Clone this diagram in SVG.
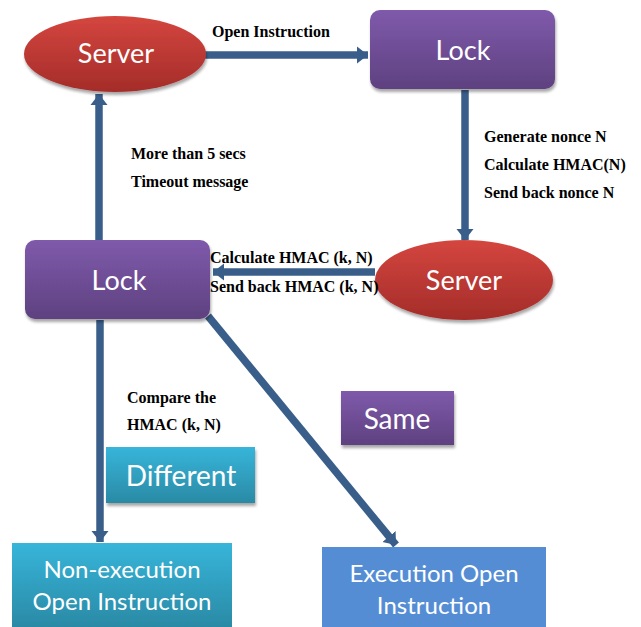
<svg xmlns="http://www.w3.org/2000/svg" width="641" height="627" viewBox="0 0 641 627">
  <defs>
    <linearGradient id="gRed" x1="0" y1="0" x2="0" y2="1">
      <stop offset="0" stop-color="#d4463f"/>
      <stop offset="1" stop-color="#a42c29"/>
    </linearGradient>
    <linearGradient id="gPurple" x1="0" y1="0" x2="0" y2="1">
      <stop offset="0" stop-color="#7f5aab"/>
      <stop offset="1" stop-color="#5e4180"/>
    </linearGradient>
    <linearGradient id="gTeal" x1="0" y1="0" x2="0" y2="1">
      <stop offset="0" stop-color="#37b5da"/>
      <stop offset="1" stop-color="#2a8aa5"/>
    </linearGradient>
    <filter id="shadow" x="-10%" y="-10%" width="120%" height="130%">
      <feGaussianBlur in="SourceAlpha" stdDeviation="1.5"/>
      <feOffset dx="1" dy="3" result="b"/>
      <feComponentTransfer><feFuncA type="linear" slope="0.35"/></feComponentTransfer>
      <feMerge><feMergeNode/><feMergeNode in="SourceGraphic"/></feMerge>
    </filter>
    <marker id="head" markerUnits="userSpaceOnUse" markerWidth="14" markerHeight="20" refX="11" refY="10" orient="auto">
      <path d="M0,1.5 L11,10 L0,18.5 Z" fill="#3a5e8a"/>
    </marker>
  </defs>
  <style>
    .arrow { stroke: #3a5e8a; stroke-width: 7.5; fill: none; marker-end: url(#head); }
    .node { font-family: Lato, "Open Sans", sans-serif; fill: #ffffff; text-anchor: middle; }
    .lbl { font-family: "Liberation Serif", "Times New Roman", serif; font-weight: bold; font-size: 16px; fill: #000000; }
  </style>

  <g id="connectors">
    <line class="arrow" x1="205" y1="55" x2="368" y2="55"/>
    <line class="arrow" x1="465" y1="90" x2="465" y2="240"/>
    <line class="arrow" x1="375" y1="272" x2="213" y2="272"/>
    <line class="arrow" x1="99" y1="240" x2="99" y2="94"/>
    <line class="arrow" x1="100" y1="320" x2="100" y2="542"/>
    <line class="arrow" x1="208" y1="316" x2="396" y2="545"/>
  </g>

  <g id="server-top">
    <ellipse cx="115" cy="54" rx="91" ry="38" fill="url(#gRed)" filter="url(#shadow)"/>
    <text class="node" x="116" y="63" font-size="27">Server</text>
  </g>

  <g id="lock-top">
    <rect x="370" y="10" width="185" height="79" rx="10" fill="url(#gPurple)" filter="url(#shadow)"/>
    <text class="node" x="463" y="60" font-size="27">Lock</text>
  </g>

  <g id="server-bottom">
    <ellipse cx="464" cy="280" rx="89" ry="40" fill="url(#gRed)" filter="url(#shadow)"/>
    <text class="node" x="464" y="290" font-size="27">Server</text>
  </g>

  <g id="lock-bottom">
    <rect x="25" y="240" width="185" height="79" rx="10" fill="url(#gPurple)" filter="url(#shadow)"/>
    <text class="node" x="119" y="290" font-size="27">Lock</text>
  </g>

  <g id="same">
    <rect x="341" y="391" width="113" height="54" fill="url(#gPurple)" filter="url(#shadow)"/>
    <text class="node" x="397" y="429" font-size="28">Same</text>
  </g>

  <g id="different">
    <rect x="106" y="447" width="149" height="56" fill="url(#gTeal)" filter="url(#shadow)"/>
    <text class="node" x="181" y="486" font-size="28">Different</text>
  </g>

  <g id="non-execution">
    <rect x="12" y="543" width="220" height="84" fill="url(#gTeal)"/>
    <text class="node" x="122" y="578" font-size="24">Non-execution</text>
    <text class="node" x="122" y="610" font-size="24">Open Instruction</text>
  </g>

  <g id="execution">
    <rect x="322" y="547" width="224" height="80" fill="#558dd5"/>
    <text class="node" x="434" y="582" font-size="24">Execution Open</text>
    <text class="node" x="434" y="614" font-size="24">Instruction</text>
  </g>

  <g id="labels">
    <text class="lbl" x="212" y="37">Open Instruction</text>
    <text class="lbl" x="484" y="142">Generate nonce N</text>
    <text class="lbl" x="484" y="170">Calculate HMAC(N)</text>
    <text class="lbl" x="484" y="198">Send back nonce N</text>
    <text class="lbl" x="131" y="159">More than 5 secs</text>
    <text class="lbl" x="131" y="187">Timeout message</text>
    <text class="lbl" x="210" y="263">Calculate HMAC (k, N)</text>
    <text class="lbl" x="210" y="292">Send back HMAC (k, N)</text>
    <text class="lbl" x="127" y="403">Compare the</text>
    <text class="lbl" x="127" y="430">HMAC (k, N)</text>
  </g>
</svg>
